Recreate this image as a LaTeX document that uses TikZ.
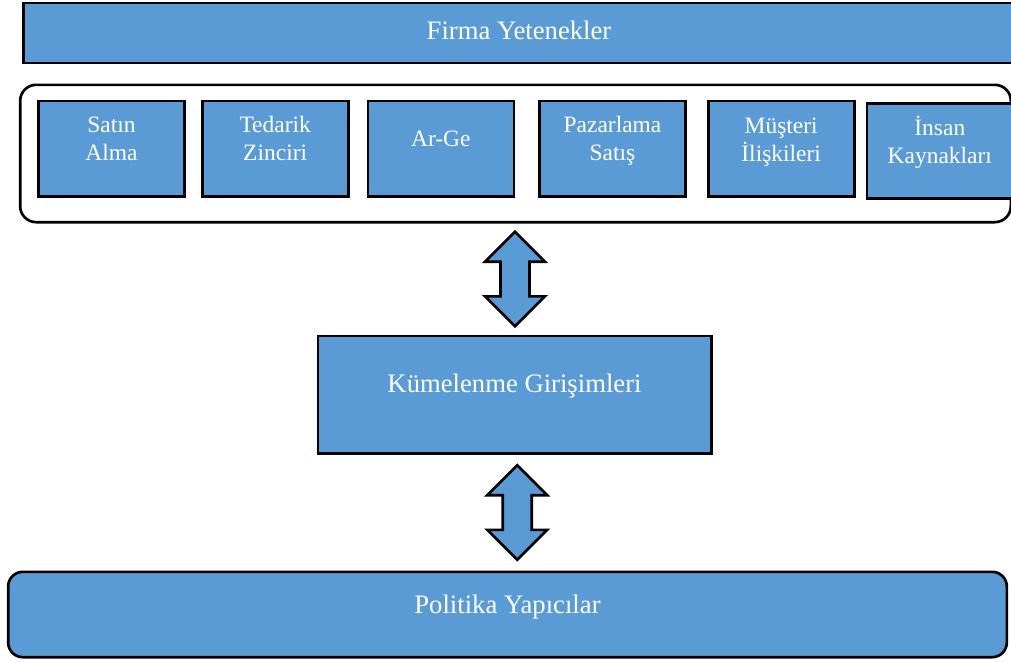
\documentclass[tikz,border=0pt]{standalone}
\usepackage{fontspec}
\setmainfont{Liberation Serif}
\usetikzlibrary{shapes.arrows, positioning, calc}

\definecolor{boxblue}{RGB}{91,155,213}

\begin{document}
\begin{tikzpicture}[
x=0.75pt, y=-0.75pt,
bluebox/.style={rectangle, draw=black, line width=2pt, fill=boxblue, inner sep=0pt},
cellbox/.style={bluebox, minimum width=109.5pt, minimum height=71.5pt},
roundbar/.style={bluebox, rounded corners=11pt},
celltext/.style={text=white, align=center, font=\fontsize{17.6}{21}\selectfont, yshift=#1},
celltext/.default=7.5pt,
bigtext/.style={text=white, font=\fontsize{20}{24}\selectfont, yshift=#1},
bigtext/.default=7.5pt,
twinarrow/.style={double arrow, draw=black, line width=2pt, fill=boxblue, rotate=90,
  inner xsep=0pt, inner ysep=9.9pt, minimum width=43pt, minimum height=71pt,
  double arrow head extend=11.6pt, double arrow head indent=0pt}
]
\useasboundingbox (0,0) rectangle (1011,661);

% top level
\node[bluebox, minimum width=743pt, minimum height=45pt,
  label={[bigtext=2.25pt]center:Firma Yetenekler}] (bar_firma) at (519,33) {};

% functions panel
\node[rectangle, draw=black, line width=2pt, rounded corners=12pt,
  minimum width=743pt, minimum height=103pt] (panel) at (515.5,153.5) {};

\node[cellbox, label={[celltext]center:Satın\\Alma}] (rect_satin) at (111.5,148.5) {};
\node[cellbox, label={[celltext]center:Tedarik\\Zinciri}] (rect_tedarik) [right=11.25pt of rect_satin] {};
\node[cellbox, label={[celltext]center:Ar-Ge}] (rect_arge) [right=12.75pt of rect_tedarik] {};
\node[cellbox, label={[celltext=5.5pt]center:Pazarlama\\Satış}] (rect_pazarlama) [right=17.25pt of rect_arge] {};
\node[cellbox, label={[celltext=4.5pt]center:Müşteri\\İlişkileri}] (rect_musteri) [right=15pt of rect_pazarlama] {};
\node[cellbox, label={[celltext=6.5pt]center:İnsan\\Kaynakları}, yshift=-1.9pt] (rect_insan) [right=7.5pt of rect_musteri] {};

% cluster
\node[bluebox, minimum width=295pt, minimum height=88pt,
  label={[bigtext=6pt]center:Kümelenme Girişimleri}] (rect_kume) at (514.5,394.5) {};

% policy makers
\node[roundbar, minimum width=749pt, minimum height=64pt,
  label={[bigtext=5.5pt]center:Politika Yapıcılar}] (bar_politika) at (507.5,614.5) {};

% two-way arrows
\node[twinarrow] (arrow_top) at ($(panel.south)!0.5!(rect_kume.north)$) {};
\node[twinarrow] (arrow_bottom) at ($(rect_kume.south)!0.5!(bar_politika.north) + (6.25,0)$) {};

\end{tikzpicture}
\end{document}
